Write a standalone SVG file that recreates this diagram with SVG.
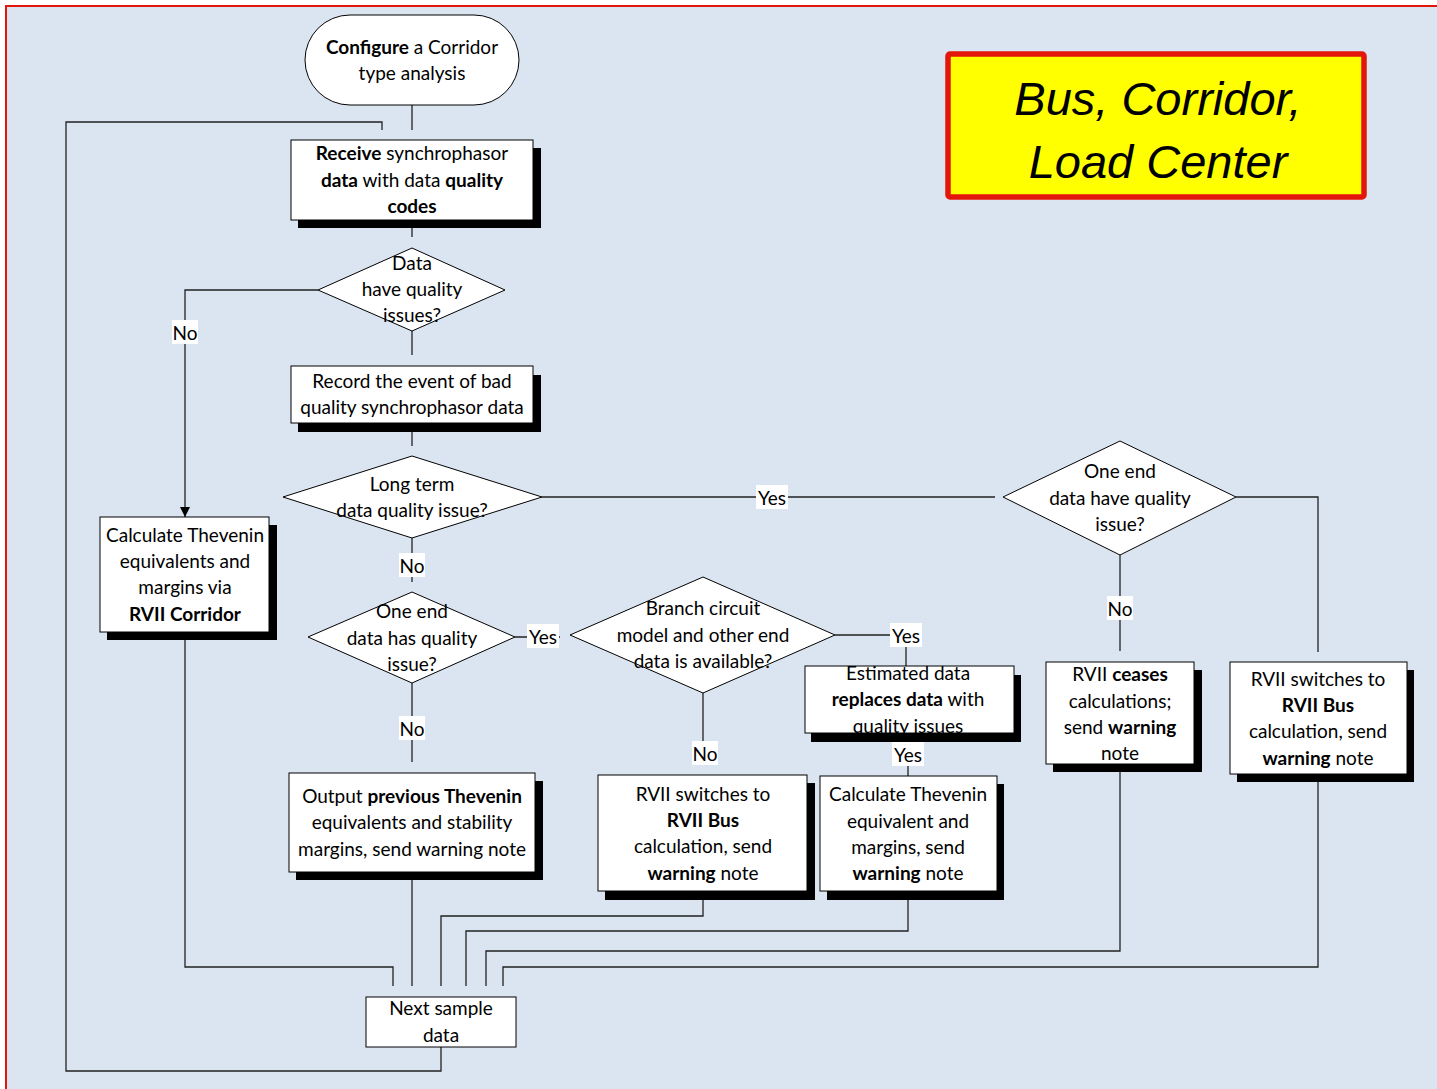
<svg xmlns="http://www.w3.org/2000/svg" width="1437" height="1089" viewBox="0 0 1437 1089">
<defs>
<style>
.t{font-family:Lato,"Liberation Sans",sans-serif;font-size:19px;fill:#000;text-anchor:middle;transform:translate(0px,1px)}
.b{font-weight:bold}
.box{fill:#fff;stroke:#000;stroke-width:1}
.sh{fill:#000}
.c{fill:none;stroke:#222;stroke-width:1.3}
.lb{fill:#fff}
.title{font-family:"Liberation Sans",Arial,sans-serif;font-style:italic;font-size:47px;text-anchor:middle;fill:#000}
</style>
<marker id="arr" viewBox="0 0 10 10" refX="10" refY="5" markerWidth="10" markerHeight="10" markerUnits="userSpaceOnUse" orient="auto">
<path d="M0,0 L10,5 L0,10 Z" fill="#000"/>
</marker>
</defs>
<rect x="0" y="0" width="1437" height="1089" fill="#fff"/>
<rect x="6" y="6" width="1440" height="1100" fill="#dbe5f1" stroke="#e3160b" stroke-width="2"/>

<g id="connectors">
<path class="c" d="M412,105 V130"/>
<path class="c" d="M441,1047 V1071 H66 V122 H382 V130"/>
<path class="c" d="M412,220 V237"/>
<path class="c" d="M412,331 V355"/>
<path class="c" d="M318,290 H185 V517" marker-end="url(#arr)"/>
<path class="c" d="M412,423 V446"/>
<path class="c" d="M542,497 H995"/>
<path class="c" d="M412,538 V582"/>
<path class="c" d="M515,637 H560"/>
<path class="c" d="M412,683 V762"/>
<path class="c" d="M835,635 H906 V666"/>
<path class="c" d="M908,733 V776"/>
<path class="c" d="M703,693 V765"/>
<path class="c" d="M1120,555 V651"/>
<path class="c" d="M1236,497 H1318 V652"/>
<path class="c" d="M185,632 V967 H393 V986"/>
<path class="c" d="M412,872 V986"/>
<path class="c" d="M703,891 V916 H441 V986"/>
<path class="c" d="M908,891 V931 H466 V986"/>
<path class="c" d="M1120,764 V951 H486 V986"/>
<path class="c" d="M1318,774 V967 H503 V986"/>
<rect class="lb" x="172" y="320" width="26" height="24"/><text class="t" x="185" y="339">No</text>
<rect class="lb" x="756" y="485" width="32" height="24"/><text class="t" x="772" y="504">Yes</text>
<rect class="lb" x="399" y="553" width="26" height="24"/><text class="t" x="412" y="572">No</text>
<rect class="lb" x="527" y="624" width="32" height="24"/><text class="t" x="543" y="643">Yes</text>
<rect class="lb" x="890" y="623" width="32" height="24"/><text class="t" x="906" y="642">Yes</text>
<rect class="lb" x="399" y="716" width="26" height="24"/><text class="t" x="412" y="735">No</text>
<rect class="lb" x="692" y="741" width="26" height="24"/><text class="t" x="705" y="760">No</text>
<rect class="lb" x="892" y="742" width="32" height="24"/><text class="t" x="908" y="761">Yes</text>
<rect class="lb" x="1107" y="596" width="26" height="24"/><text class="t" x="1120" y="615">No</text>
</g>

<g id="title">
<rect x="948" y="54" width="416" height="143" rx="2" fill="#ffff00" stroke="#e3160b" stroke-width="5.5"/>
<text class="title" x="1158" y="115">Bus, Corridor,</text>
<text class="title" x="1158" y="178">Load Center</text>
</g>

<g id="start">
<rect class="box" x="305" y="15" width="214" height="90" rx="45"/>
<text class="t" x="412" y="53"><tspan class="b">Configure</tspan> a Corridor</text>
<text class="t" x="412" y="79">type analysis</text>
</g>

<g id="receive">
<rect class="sh" x="298" y="148" width="243" height="80"/>
<rect class="box" x="291" y="140" width="242" height="80"/>
<text class="t" x="412" y="159"><tspan class="b">Receive</tspan> synchrophasor</text>
<text class="t" x="412" y="186"><tspan class="b">data</tspan> with data <tspan class="b">quality</tspan></text>
<text class="t b" x="412" y="212">codes</text>
</g>

<g id="dq1">
<polygon class="box" points="412,248 505,290 412,331 318,290"/>
<text class="t" x="412" y="269">Data</text>
<text class="t" x="412" y="295">have quality</text>
<text class="t" x="412" y="321">issues?</text>
</g>

<g id="record">
<rect class="sh" x="298" y="375" width="243" height="57"/>
<rect class="box" x="291" y="366" width="242" height="57"/>
<text class="t" x="412" y="387">Record the event of bad</text>
<text class="t" x="412" y="413">quality synchrophasor data</text>
</g>

<g id="longterm">
<polygon class="box" points="412,456 542,497 412,538 283,497"/>
<text class="t" x="412" y="490">Long term</text>
<text class="t" x="412" y="516">data quality issue?</text>
</g>

<g id="oneend1">
<polygon class="box" points="412,592 515,637 412,683 308,637"/>
<text class="t" x="412" y="617">One end</text>
<text class="t" x="412" y="644">data has quality</text>
<text class="t" x="412" y="670">issue?</text>
</g>

<g id="output">
<rect class="sh" x="296" y="781" width="247" height="99"/>
<rect class="box" x="289" y="773" width="246" height="99"/>
<text class="t" x="412" y="802">Output <tspan class="b">previous Thevenin</tspan></text>
<text class="t" x="412" y="828">equivalents and stability</text>
<text class="t" x="412" y="855">margins, send warning note</text>
</g>

<g id="branch">
<polygon class="box" points="703,577 835,635 703,693 570,635"/>
<text class="t" x="703" y="614">Branch circuit</text>
<text class="t" x="703" y="641">model and other end</text>
<text class="t" x="703" y="667">data is available?</text>
</g>

<g id="estimated">
<rect class="sh" x="811" y="675" width="210" height="67"/>
<rect class="box" x="805" y="666" width="209" height="67"/>
<text class="t" x="908" y="679">Estimated data</text>
<text class="t" x="908" y="705"><tspan class="b">replaces data</tspan> with</text>
<text class="t" x="908" y="732">quality issues</text>
</g>

<g id="busmid">
<rect class="sh" x="605" y="783" width="210" height="117"/>
<rect class="box" x="598" y="775" width="209" height="116"/>
<text class="t" x="703" y="800">RVII switches to</text>
<text class="t b" x="703" y="826">RVII Bus</text>
<text class="t" x="703" y="852">calculation, send</text>
<text class="t" x="703" y="879"><tspan class="b">warning</tspan> note</text>
</g>

<g id="thevenin">
<rect class="sh" x="827" y="784" width="177" height="116"/>
<rect class="box" x="820" y="776" width="177" height="115"/>
<text class="t" x="908" y="800">Calculate Thevenin</text>
<text class="t" x="908" y="827">equivalent and</text>
<text class="t" x="908" y="853">margins, send</text>
<text class="t" x="908" y="879"><tspan class="b">warning</tspan> note</text>
</g>

<g id="oneend2">
<polygon class="box" points="1120,441 1236,497 1120,555 1003,497"/>
<text class="t" x="1120" y="477">One end</text>
<text class="t" x="1120" y="504">data have quality</text>
<text class="t" x="1120" y="530">issue?</text>
</g>

<g id="ceases">
<rect class="sh" x="1053" y="670" width="149" height="102"/>
<rect class="box" x="1046" y="662" width="148" height="102"/>
<text class="t" x="1120" y="680">RVII <tspan class="b">ceases</tspan></text>
<text class="t" x="1120" y="707">calculations;</text>
<text class="t" x="1120" y="733">send <tspan class="b">warning</tspan></text>
<text class="t" x="1120" y="759">note</text>
</g>

<g id="busright">
<rect class="sh" x="1237" y="670" width="177" height="112"/>
<rect class="box" x="1230" y="662" width="177" height="112"/>
<text class="t" x="1318" y="685">RVII switches to</text>
<text class="t b" x="1318" y="711">RVII Bus</text>
<text class="t" x="1318" y="737">calculation, send</text>
<text class="t" x="1318" y="764"><tspan class="b">warning</tspan> note</text>
</g>

<g id="corridor">
<rect class="sh" x="107" y="525" width="170" height="115"/>
<rect class="box" x="100" y="517" width="169" height="115"/>
<text class="t" x="185" y="541">Calculate Thevenin</text>
<text class="t" x="185" y="567">equivalents and</text>
<text class="t" x="185" y="593">margins via</text>
<text class="t b" x="185" y="620">RVII Corridor</text>
</g>

<g id="next">
<rect class="box" x="366" y="997" width="150" height="50"/>
<text class="t" x="441" y="1014">Next sample</text>
<text class="t" x="441" y="1041">data</text>
</g>
</svg>
